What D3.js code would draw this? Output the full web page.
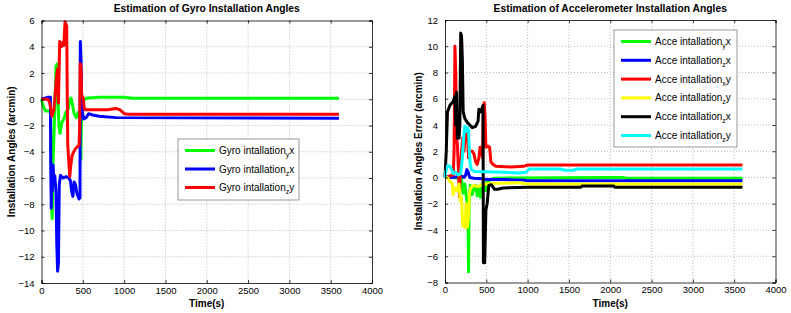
<!DOCTYPE html>
<html>
<head>
<meta charset="utf-8">
<script src="https://cdn.jsdelivr.net/npm/d3@7"></script>
<style>
body { margin: 0; background: #fff; }
svg { display: block; font-family: Arial, "Liberation Sans", sans-serif; }
.grid line { stroke: #a8a8a8; stroke-dasharray: 1,2; stroke-width: 0.8; }
.tick text { font-size: 9.5px; fill: #000; }
</style>
</head>
<body>
<div id="chart"></div>
<script>
// ---- gyro installation angles (arcmin), [time s, value]
var gyroYX = [[0,0],[20,-0.5],[50,-0.9],[105,-0.9],[112,-1.5],[118,-5],[125,-8.5],[130,-9.1],[138,-5],[150,-3],[165,0],[175,2.5],[190,2.7],[200,0],[210,-2],[225,-2.6],[245,-1.8],[270,-1.5],[295,-1.0],[320,-0.8],[340,-0.2],[357,0.1],[375,-0.4],[395,-1.1],[420,-1.4],[445,-1.0],[468,-1.3],[476,-4.6],[485,-1],[495,0],[520,0],[560,0.1],[700,0.15],[1000,0.15],[1100,0.08],[3600,0.08]];
var gyroZX = [[0,0],[80,0.15],[108,0.15],[112,-5],[118,-8.3],[124,-5.5],[130,-7],[140,-5],[150,-6.3],[160,-5.8],[175,-7],[185,-11],[195,-13.1],[205,-12.5],[215,-6.5],[230,-5.8],[260,-6],[300,-5.9],[330,-6],[350,-6.2],[365,-7],[380,-7.4],[395,-6.3],[410,-6.5],[430,-7.2],[455,-7.6],[466,-7.5],[470,4.4],[478,3],[485,0.5],[495,-1],[510,-1.5],[540,-1.4],[570,-1.1],[620,-1.2],[700,-1.3],[900,-1.4],[3600,-1.45]];
var gyroZY = [[0,0],[80,0],[100,-0.3],[127,-1.3],[150,-0.8],[180,1.6],[195,2.3],[205,-0.3],[220,4.4],[240,4.0],[255,4.3],[270,4.1],[285,5.9],[305,5.6],[312,0],[318,-3.5],[330,-4.7],[342,-5.9],[355,-5],[370,-4.3],[390,-4],[420,-3.7],[455,-3.5],[462,-2],[468,2.7],[478,2.5],[485,0.3],[505,0.1],[515,-0.6],[530,-0.8],[800,-0.8],[900,-0.7],[950,-0.8],[1000,-1.1],[1050,-1.15],[3600,-1.15]];

// ---- accelerometer installation angle errors (arcmin), [time s, value]
var acceYX = [[0,0],[100,0],[200,-0.1],[220,-1.2],[240,-0.5],[260,-1.5],[278,-2.5],[285,-7.2],[292,-2],[305,-0.6],[330,-1.3],[350,-0.8],[370,-0.6],[390,-1.4],[410,-0.8],[430,-1.5],[450,-0.5],[470,-0.9],[490,-1],[500,-0.4],[540,-0.2],[600,-0.05],[2000,0],[2150,0],[2200,-0.05],[3600,-0.05]];
var acceZX = [[0,0],[100,0],[150,0.05],[200,0.1],[230,0],[250,0.2],[265,0.6],[280,0.4],[300,0],[350,-0.05],[450,-0.1],[500,-0.15],[700,-0.15],[950,-0.2],[1000,-0.25],[3600,-0.25]];
var acceXY = [[0,0],[50,0.1],[100,0.2],[110,2],[120,10],[130,8],[140,3],[150,2.5],[160,1],[175,-1.5],[185,0.5],[200,2],[215,3],[230,2],[250,3.7],[270,3.5],[285,1.5],[300,2],[330,2],[350,1.8],[370,1.2],[390,1],[410,1.5],[425,2.3],[440,2],[455,1.5],[465,5],[475,5.7],[485,4.5],[495,2.3],[520,2.4],[540,2.3],[555,1.2],[580,1],[620,0.85],[800,0.8],[950,0.85],[1000,0.95],[3600,0.95]];
var acceZY = [[0,0],[30,0],[60,-0.3],[90,-0.5],[100,-1.3],[110,-1],[130,-0.8],[150,-1],[170,-0.5],[185,-1.8],[200,-1.5],[215,-3.7],[225,-3.5],[240,-3.8],[255,-2],[270,-3.8],[285,-3],[295,-1.2],[310,-0.8],[350,-0.6],[400,-0.7],[450,-0.55],[550,-0.45],[900,-0.4],[1000,-0.5],[3600,-0.5]];
var acceZX2 = [[0,0],[15,2],[30,5],[60,5.5],[100,5.8],[120,6.2],[130,4],[140,6.5],[150,3],[160,5],[170,3],[180,4],[190,11],[200,10.8],[210,9],[220,5],[240,4.5],[270,4.2],[300,4],[330,3.8],[370,3.9],[400,4.3],[410,5.2],[430,5],[450,5.3],[460,5.5],[465,-6.5],[480,-6.5],[495,-2.5],[510,-2],[530,-0.6],[560,-0.55],[600,-0.9],[640,-0.9],[700,-0.8],[1000,-0.75],[1640,-0.75],[1660,-0.65],[2040,-0.65],[2060,-0.75],[3600,-0.75]];
var acceZY2 = [[0,0],[10,0.5],[30,0.9],[60,0.85],[80,0.6],[100,0.3],[130,0.4],[160,0.2],[190,0.3],[210,1.5],[225,3],[240,3.9],[255,3.5],[270,3.8],[285,3.6],[295,2],[305,1],[320,0.6],[360,0.45],[700,0.4],[900,0.35],[980,0.4],[1020,0.65],[1400,0.65],[1450,0.55],[1550,0.55],[1600,0.65],[3600,0.65]];

var xTicks = [0,500,1000,1500,2000,2500,3000,3500,4000];
var gyroYTicks = [-14,-12,-10,-8,-6,-4,-2,0,2,4,6];
var acceYTicks = [-8,-6,-4,-2,0,2,4,6,8,10,12];

var gyroNames = [["Gyro intallation","y","x"],["Gyro intallation","z","x"],["Gyro intallation","z","y"]];
var acceNames = [["Acce intallation","y","x"],["Acce intallation","z","x"],["Acce intallation","x","y"],["Acce intallation","z","y"],["Acce intallation","z","x"],["Acce intallation","z","y"]];
var gyroColors = ["#00ff00","#0000ff","#ff0000"];
var acceColors = ["#00ff00","#0000ff","#ff0000","#ffff00","#000000","#00ffff"];

var width = 791, height = 313;
var svg = d3.select("#chart").append("svg")
	.attr("width", width)
	.attr("height", height);

function drawChart(cfg) {
	var x = d3.scaleLinear().domain([0, 4000]).range([cfg.left, cfg.right]);
	var y = d3.scaleLinear().domain(cfg.yDomain).range([cfg.bottom, cfg.top]);
	var g = svg.append("g");

	// grid
	var grid = g.append("g").attr("class", "grid");
	grid.selectAll(".gx").data(xTicks.slice(1, -1)).enter().append("line")
		.attr("x1", function(d) { return x(d); }).attr("x2", function(d) { return x(d); })
		.attr("y1", cfg.top).attr("y2", cfg.bottom);
	grid.selectAll(".gy").data(cfg.yTicks.slice(1, -1)).enter().append("line")
		.attr("y1", function(d) { return y(d); }).attr("y2", function(d) { return y(d); })
		.attr("x1", cfg.left).attr("x2", cfg.right);

	// lines
	var line = d3.line()
		.x(function(d) { return x(d[0]); })
		.y(function(d) { return y(d[1]); });
	cfg.series.forEach(function(s, i) {
		g.append("path")
			.attr("d", line(s))
			.attr("fill", "none")
			.attr("stroke", cfg.colors[i])
			.attr("stroke-width", 3)
			.attr("stroke-linejoin", "round");
	});

	// axes (matlab style: inward ticks, box)
	var xAxis = d3.axisBottom(x).tickValues(xTicks).tickSize(-3).tickPadding(3).tickFormat(d3.format("d"));
	var yAxis = d3.axisLeft(y).tickValues(cfg.yTicks).tickSize(-3).tickPadding(7).tickFormat(d3.format("d"));
	var ax = g.append("g").attr("transform", "translate(0," + cfg.bottom + ")").call(xAxis);
	var ay = g.append("g").attr("transform", "translate(" + cfg.left + ",0)").call(yAxis);
	g.append("g").attr("transform", "translate(0," + cfg.top + ")")
		.call(d3.axisTop(x).tickValues(xTicks).tickSize(-3).tickFormat(""));
	g.append("g").attr("transform", "translate(" + cfg.right + ",0)")
		.call(d3.axisRight(y).tickValues(cfg.yTicks).tickSize(-3).tickFormat(""));
	g.selectAll(".domain").attr("stroke", "#000").attr("stroke-width", 0.8);
	g.selectAll(".tick line").attr("stroke", "#000").attr("stroke-width", 0.8);
	ax.selectAll("text").attr("dy", "0.8em");

	// title and labels
	g.append("text")
		.attr("x", (cfg.left + cfg.right) / 2)
		.attr("y", 12)
		.attr("text-anchor", "middle")
		.attr("font-size", "10.3px")
		.attr("font-weight", "bold")
		.text(cfg.title);
	g.append("text")
		.attr("x", (cfg.left + cfg.right) / 2)
		.attr("y", 307)
		.attr("text-anchor", "middle")
		.attr("font-size", "10px")
		.attr("font-weight", "bold")
		.text("Time(s)");
	g.append("text")
		.attr("transform", "translate(" + cfg.ylabelX + "," + ((cfg.top + cfg.bottom) / 2) + ") rotate(-90)")
		.attr("text-anchor", "middle")
		.attr("font-size", "10px")
		.attr("font-weight", "bold")
		.text(cfg.ylabel);

	// legend
	var lg = cfg.legend;
	g.append("rect")
		.attr("x", lg.x).attr("y", lg.y)
		.attr("width", lg.w).attr("height", lg.h)
		.attr("fill", "#fff")
		.attr("stroke", "#7f7f7f")
		.attr("stroke-width", 0.8);
	cfg.names.forEach(function(n, i) {
		var yy = lg.y + lg.first + i * lg.step;
		g.append("line")
			.attr("x1", lg.x + 7).attr("x2", lg.x + 37)
			.attr("y1", yy).attr("y2", yy)
			.attr("stroke", cfg.colors[i])
			.attr("stroke-width", 3);
		var t = g.append("text")
			.attr("x", lg.x + 41)
			.attr("y", yy + 3.5)
			.attr("font-size", "10px");
		t.append("tspan").text(n[0]);
		t.append("tspan").attr("font-size", "7px").attr("dy", 3).text(n[1]);
		t.append("tspan").attr("dy", -3).text(n[2]);
	});
}

drawChart({
	left: 41.5, right: 372, top: 20.5, bottom: 283,
	yDomain: [-14, 6], yTicks: gyroYTicks,
	series: [gyroYX, gyroZX, gyroZY], colors: gyroColors, names: gyroNames,
	title: "Estimation of Gyro Installation Angles",
	ylabel: "Installation Angles (arcmin)", ylabelX: 15,
	legend: { x: 178, y: 139, w: 121, h: 61, first: 11.5, step: 18.5 }
});

drawChart({
	left: 445, right: 775.5, top: 20, bottom: 282.5,
	yDomain: [-8, 12], yTicks: acceYTicks,
	series: [acceYX, acceZX, acceXY, acceZY, acceZX2, acceZY2], colors: acceColors, names: acceNames,
	title: "Estimation of Accelerometer Installation Angles",
	ylabel: "Installation Angles Error (arcmin)", ylabelX: 422,
	legend: { x: 614, y: 30, w: 123, h: 117, first: 11.5, step: 18.8 }
});
</script>
</body>
</html>
